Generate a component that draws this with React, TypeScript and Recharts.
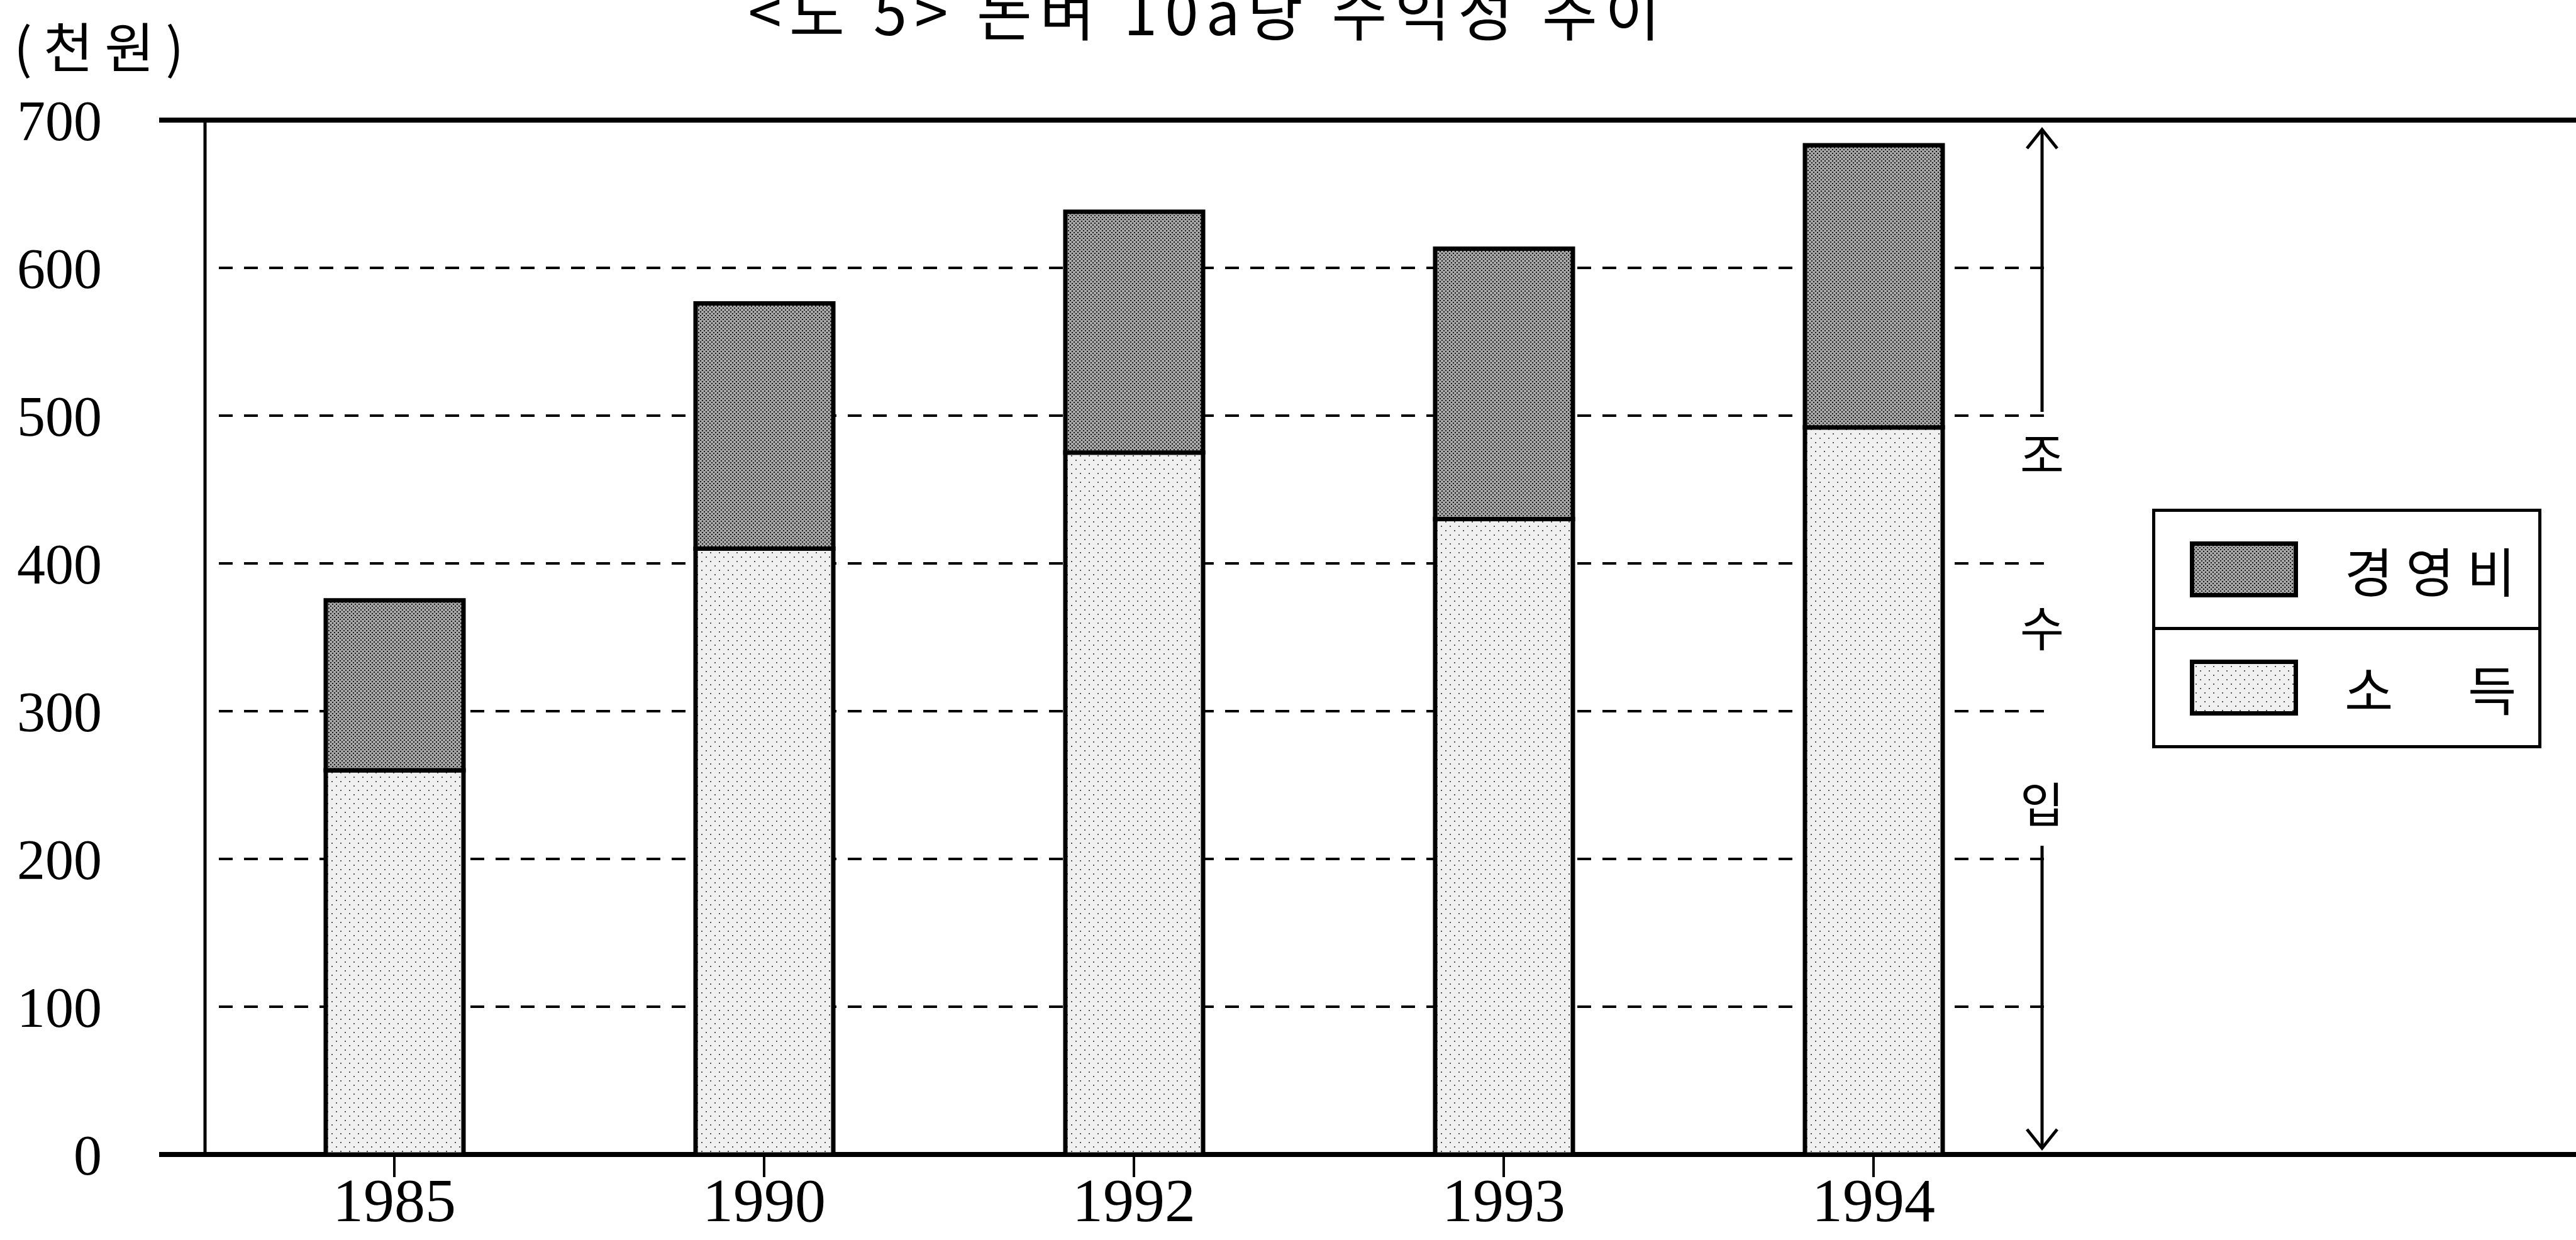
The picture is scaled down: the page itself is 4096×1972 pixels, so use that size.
import React from 'react'
import { BarChart, Bar, XAxis, YAxis, CartesianGrid, Legend } from 'recharts'

// 논벼 10a당 수익성 (천원)
const years = ['1985', '1990', '1992', '1993', '1994']
const income = [260, 410, 475, 430, 492] // 소득
const costs = [115, 166, 163, 183, 191] // 경영비
const yTicks = [0, 100, 200, 300, 400, 500, 600, 700]

const data = years.map((year, i) => ({ year, income: income[i], costs: costs[i] }))

const W = 4096
const H = 1972
const serif = '"Liberation Serif", "DejaVu Serif", serif'
const kr = '"Noto Sans CJK KR", "Noto Sans", sans-serif'

// dashed grid, solid frame lines at 0 and 700
const gridLine = (props: any) => {
  const { x1, y1, y, height } = props
  const isEdge = Math.abs(y1 - y) < 1 || Math.abs(y1 - (y + height)) < 1
  if (isEdge) {
    return <line key={`g-${y1}`} x1={x1 - 73} x2={W} y1={y1} y2={y1} stroke="#000" strokeWidth={8} />
  }
  return (
    <line
      key={`g-${y1}`}
      x1={x1 + 22}
      x2={3252}
      y1={y1}
      y2={y1}
      stroke="#000"
      strokeWidth={4}
      strokeDasharray="22 18"
    />
  )
}

const LegendBox = ({ payload }: any) => {
  const items = payload || []
  return (
    <div
      style={{
        width: 619,
        height: 381,
        border: '5px solid #000',
        boxSizing: 'border-box',
        background: '#fff',
        display: 'flex',
        flexDirection: 'column',
      }}
    >
      {items.map((it: any, i: number) => (
        <div
          key={it.value}
          style={{
            flex: 1,
            display: 'flex',
            alignItems: 'center',
            borderTop: i > 0 ? '5px solid #000' : 'none',
          }}
        >
          <svg width={172} height={89} style={{ marginLeft: 55 }}>
            <rect x={3.5} y={3.5} width={165} height={82} fill={it.payload.fill} stroke="#000" strokeWidth={7} />
          </svg>
          <span
            style={{
              marginLeft: 74,
              fontFamily: kr,
              fontSize: 84,
              color: '#000',
              letterSpacing: i === 0 ? 20 : 0,
              wordSpacing: i === 0 ? 0 : 100,
              whiteSpace: 'pre',
              lineHeight: 1,
            }}
          >
            {it.value}
          </span>
        </div>
      ))}
    </div>
  )
}

export default function App() {
  return (
    <div style={{ position: 'absolute', left: 0, top: 0, width: W, height: H, background: '#fff', overflow: 'hidden' }}>
      <BarChart width={W} height={H} data={data} margin={{ top: 191, right: 0, bottom: 0, left: 0 }}>
        <defs>
          <pattern id="darkDots" width="6" height="6" patternUnits="userSpaceOnUse">
            <rect width="6" height="6" fill="#a6a6a6" />
            <rect x="0" y="0" width="2" height="2" fill="#1a1a1a" />
            <rect x="3" y="3" width="2" height="2" fill="#1a1a1a" />
          </pattern>
          <pattern id="lightDots" width="14" height="14" patternUnits="userSpaceOnUse">
            <rect width="14" height="14" fill="#f0f0f0" />
            <rect x="2" y="3" width="2" height="2" fill="#555" />
            <rect x="9" y="10" width="2" height="2" fill="#555" />
          </pattern>
        </defs>
        <CartesianGrid vertical={false} horizontal={gridLine} />
        <XAxis
          dataKey="year"
          height={136}
          axisLine={false}
          tickLine={{ stroke: '#000', strokeWidth: 4 }}
          tickSize={36}
          tickMargin={0}
          interval={0}
          padding={{ left: 7, right: 823 }}
          tick={{ fontSize: 98, fill: '#000', fontFamily: serif }}
        />
        <YAxis
          width={326}
          domain={[0, 700]}
          ticks={yTicks}
          interval={0}
          allowDataOverflow
          axisLine={{ stroke: '#000', strokeWidth: 5 }}
          tickLine={false}
          tickSize={0}
          tickMargin={164}
          tick={{ fontSize: 90, fill: '#000', fontFamily: serif }}
        />
        <Legend
          layout="vertical"
          align="center"
          verticalAlign="middle"
          content={<LegendBox />}
          wrapperStyle={{ position: 'absolute', left: 3422, top: 809, width: 619, height: 381 }}
        />
        <Bar
          dataKey="income"
          name="소 득"
          stackId="a"
          barSize={219}
          fill="url(#lightDots)"
          stroke="#000"
          strokeWidth={7}
          isAnimationActive={false}
        />
        <Bar
          dataKey="costs"
          name="경영비"
          stackId="a"
          barSize={219}
          fill="url(#darkDots)"
          stroke="#000"
          strokeWidth={7}
          isAnimationActive={false}
        />
      </BarChart>
      <svg width={W} height={H} style={{ position: 'absolute', left: 0, top: 0, pointerEvents: 'none' }}>
        <text x={1921} y={56} textAnchor="middle" fontFamily={kr} fontSize={96} letterSpacing={12} fill="#000">
          {'<도 5> 논벼 10a당 수익성 추이'}
        </text>
        <text x={22} y={108} fontFamily={kr} fontSize={86} letterSpacing={18} fill="#000">
          (천원)
        </text>
        {/* 조수입 arrows */}
        <g stroke="#000" strokeWidth={5} fill="none">
          <line x1={3247} y1={206} x2={3247} y2={655} />
          <polyline points="3223,236 3247,206 3271,236" />
          <line x1={3247} y1={1345} x2={3247} y2={1826} />
          <polyline points="3223,1796 3247,1826 3271,1796" />
        </g>
        <g fontFamily={kr} fontSize={76} fill="#000" textAnchor="middle">
          <text x={3247} y={752}>조</text>
          <text x={3247} y={1028}>수</text>
          <text x={3247} y={1308}>입</text>
        </g>
      </svg>
    </div>
  )
}
